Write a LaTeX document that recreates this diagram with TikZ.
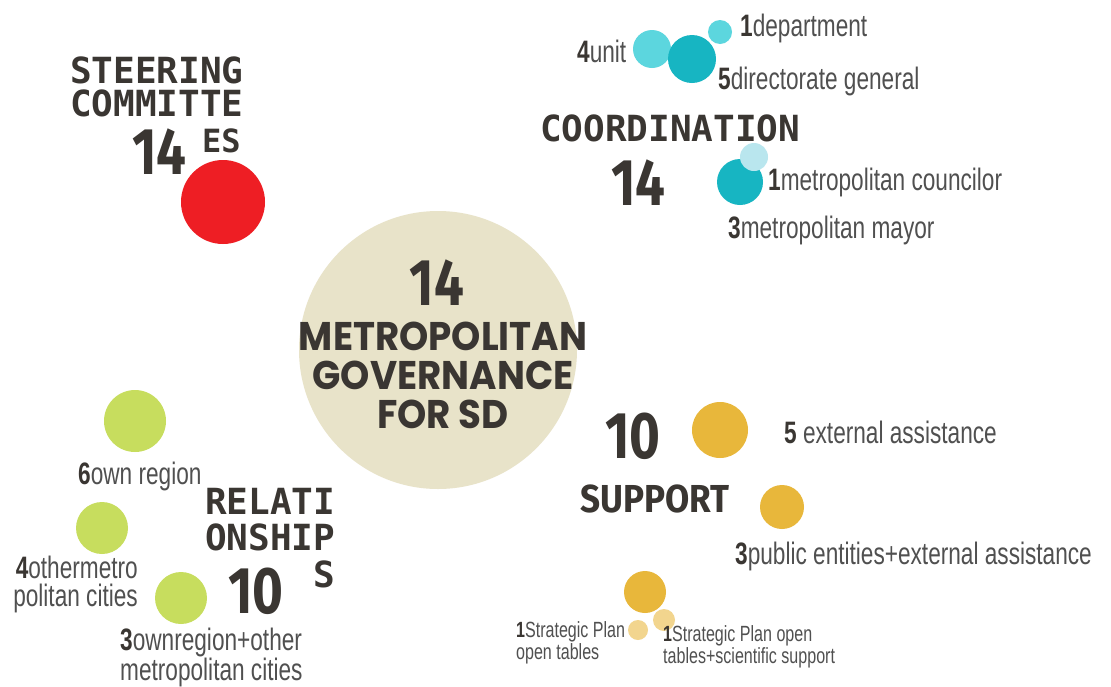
\documentclass[tikz,border=0pt]{standalone}
\usepackage{fontspec}
\usepackage{tikz}
\usetikzlibrary{positioning}

\newfontfamily\headfont{DejaVu Sans Mono}
\newfontfamily\numfont[FakeStretch=0.8]{Fira Sans}
\newfontfamily\suppfont[FakeStretch=0.9]{Fira Sans}
\newfontfamily\labelfont[FakeStretch=0.73]{Liberation Sans}
\newfontfamily\centerfont[FakeStretch=0.93]{Poppins}

\definecolor{ink}{HTML}{3A3632}
\definecolor{grayc}{HTML}{505050}
\definecolor{redc}{HTML}{EE1E24}
\definecolor{beigec}{HTML}{E8E3C9}
\definecolor{tealL}{HTML}{5CD6DE}
\definecolor{tealD}{HTML}{17B5C2}
\definecolor{tealP}{HTML}{B9E6EE}
\definecolor{greenc}{HTML}{C7DD5E}
\definecolor{mustard}{HTML}{E8B73B}
\definecolor{mustardP}{HTML}{F2D58E}

\newcommand{\bnum}[1]{{\bfseries\color{ink}#1}}

\tikzset{
bubble/.style={circle, inner sep=0pt, minimum size=#1}, % filled circles, #1 is the diameter
heading/.style={font=\headfont\bfseries\fontsize{36}{36}\selectfont, text=ink, inner sep=0pt}, % mono titles
count/.style={font=\numfont\bfseries\fontsize{66}{66}\selectfont, text=ink, inner sep=0pt}, % the big numbers
note/.style={font=\labelfont\fontsize{31}{26}\selectfont, text=grayc, inner sep=0pt}, % condensed labels
small note/.style={font=\labelfont\fontsize{22}{22}\selectfont, text=grayc, inner sep=0pt}, % the smallest labels
}

\begin{document}
\begin{tikzpicture}[x=1pt, y=-1pt]
    \fill[white] (0,0) rectangle (1111,686);
    \useasboundingbox (0,0) rectangle (1111,686);

    % circles
    \node[bubble=278, fill=beigec] (core) at (438,350) {};
    \node[bubble=84, fill=redc] (steer) at (223,202) {};
    \node[bubble=38, fill=tealL] (unit) at (652,49) {};
    \node[bubble=24, fill=tealL] (dept) at (720,32) {};
    \node[bubble=48, fill=tealD] (dirgen) at (692,59) {};
    \node[bubble=46, fill=tealD] (mayor) at (740,182) {};
    \node[bubble=28, fill=tealP] (councilor) at (754,157) {};
    \node[bubble=62, fill=greenc] (ownreg) at (135,421) {};
    \node[bubble=52, fill=greenc] (othermet) at (102,528) {};
    \node[bubble=52, fill=greenc] (bothreg) at (181,598) {};
    \node[bubble=56, fill=mustard] (extass) at (720,430) {};
    \node[bubble=44, fill=mustard] (pubent) at (782,507) {};
    \node[bubble=42, fill=mustard] (planbig) at (645,592) {};
    \node[bubble=20, fill=mustardP] (plantab) at (638,630) {};
    \node[bubble=22, fill=mustardP] (plansci) at (664,620) {};

    % steering committee
    \node[heading, anchor=base west] (steerA) at (70,83) {STEERING};
    \node[heading, anchor=base west] (steerB) at (70,116) {COMMITTE};
    \node[count, anchor=base west] (steerN) at (132,174) {14};
    \node[heading, font=\headfont\bfseries\fontsize{32}{32}\selectfont, anchor=base west] (steerC) at (202,152) {ES};

    % coordination
    \node[note, anchor=base west] (unitL) at (577,62) {\bnum{4}unit};
    \node[note, anchor=base west] (deptL) at (740,36) {\bnum{1}department};
    \node[note, anchor=base west] (dirgenL) at (718,89) {\bnum{5}directorate general};
    \node[heading, anchor=base west] (coord) at (540,141) {COORDINATION};
    \node[count, anchor=base west] (coordN) at (611,205) {14};
    \node[note, anchor=base west] (councilorL) at (768,190) {\bnum{1}metropolitan councilor};
    \node[note, anchor=base west] (mayorL) at (728,238) {\bnum{3}metropolitan mayor};

    % centre
    \node[count, anchor=base] (coreN) at (437,305) {14};
    \node[font=\centerfont\bfseries\fontsize{40}{39}\selectfont, text=ink, align=center, inner sep=0pt] (coreL) at (443,375) {METROPOLITAN\\GOVERNANCE\\FOR SD};

    % relationships
    \node[note, anchor=base west] (ownregL) at (78,484) {\bnum{6}own region};
    \node[heading, anchor=base west] (relA) at (205,514) {RELATI};
    \node[heading, anchor=base west] (relB) at (205,550) {ONSHIP};
    \node[heading, anchor=base west] (relC) at (313,587) {S};
    \node[count, anchor=base west] (relN) at (228,613) {10};
    \node[note, font=\labelfont\fontsize{31}{28}\selectfont, align=right, anchor=east] (othermetL) at (138,584) {\bnum{4}othermetro\\politan cities};
    \node[note, align=left, anchor=north west] (bothregL) at (120,628) {\bnum{3}ownregion+other\\metropolitan cities};

    % support
    \node[count, anchor=base west] (suppN) at (605,458) {10};
    \node[note, anchor=base west] (extassL) at (784,443) {\bnum{5} external assistance};
    \node[font=\suppfont\bfseries\fontsize{39}{39}\selectfont, text=ink, inner sep=0pt, anchor=base west] (supp) at (580,512) {SUPPORT};
    \node[note, anchor=base west] (pubentL) at (735,564) {\bnum{3}public entities+external assistance};
    \node[small note, align=left, anchor=north west] (plantabL) at (516,621) {\bnum{1}Strategic Plan\\open tables};
    \node[small note, align=left, anchor=north west] (plansciL) at (663,625) {\bnum{1}Strategic Plan open\\tables+scientific support};

\end{tikzpicture}
\end{document}
